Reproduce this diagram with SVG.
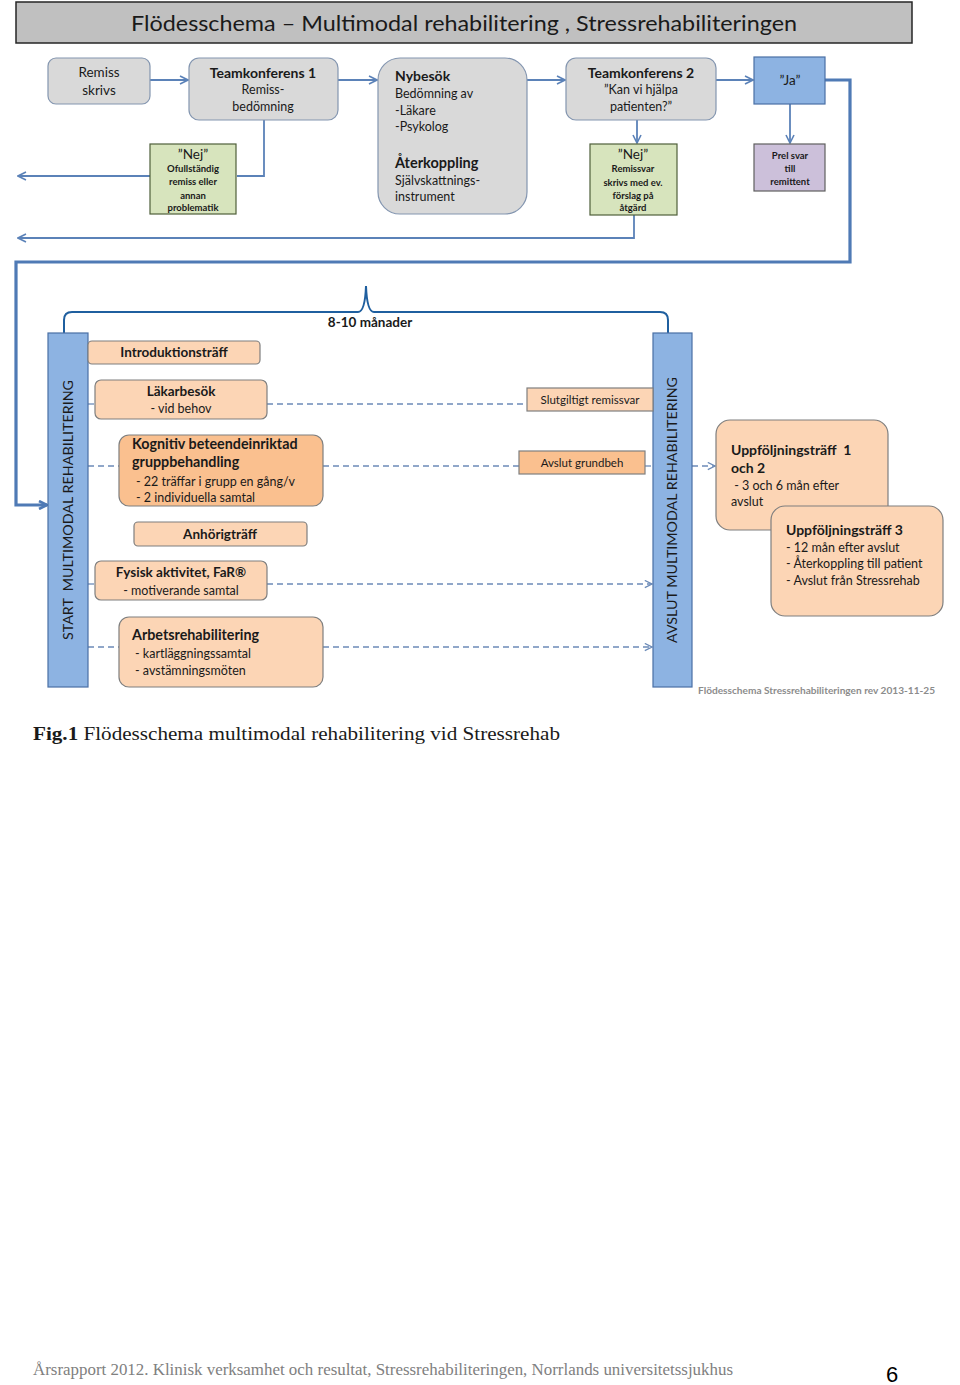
<svg xmlns="http://www.w3.org/2000/svg" width="960" height="1385" viewBox="0 0 960 1385">
<defs>
<style>
text{font-family:Lato,"Open Sans","Liberation Sans",sans-serif;fill:#1a1a1a}
.b{font-weight:bold}
.c{text-anchor:middle}
.grey{fill:#d9d9d9;stroke:#8496b0;stroke-width:1.2}
.green{fill:#d7e4bd;stroke:#4f5f3a;stroke-width:1.2}
.peach{fill:#fcd5b5;stroke:#7f7f7f;stroke-width:1.2}
.orange{fill:#fac08f;stroke:#7f7f7f;stroke-width:1.2}
.bar{fill:#8db3e2;stroke:#4a6fa5;stroke-width:1.2}
.con{fill:none;stroke:#5b82b8;stroke-width:1.8}
.thick{fill:none;stroke:#4f7ab5;stroke-width:3.2}
.dash{fill:none;stroke:#6c8bb8;stroke-width:1.3;stroke-dasharray:6 4}
</style>
<marker id="ah" viewBox="0 0 10 10" refX="9" refY="5" markerWidth="10" markerHeight="10" markerUnits="userSpaceOnUse" orient="auto">
<path d="M1,1 L9,5 L1,9" fill="none" stroke="#5b82b8" stroke-width="1.6"/>
</marker>
<marker id="ahd" viewBox="0 0 10 10" refX="9" refY="5" markerWidth="9" markerHeight="9" markerUnits="userSpaceOnUse" orient="auto">
<path d="M1,1 L9,5 L1,9" fill="none" stroke="#6c8bb8" stroke-width="1.4"/>
</marker>
<marker id="aht" viewBox="0 0 10 10" refX="9" refY="5" markerWidth="10" markerHeight="10" markerUnits="userSpaceOnUse" orient="auto">
<path d="M1,1 L9,5 L1,9" fill="none" stroke="#4f7ab5" stroke-width="2.6"/>
</marker>
</defs>
<rect width="960" height="1385" fill="#ffffff"/>

<g id="header">
<rect x="16" y="2" width="896" height="41" fill="#c0c0c0" stroke="#262626" stroke-width="1.5"/>
<text x="464" y="31" class="c" font-size="22" textLength="666" lengthAdjust="spacingAndGlyphs">Flödesschema – Multimodal rehabilitering , Stressrehabiliteringen</text>
</g>

<g id="connectors">
<line class="con" x1="150" y1="80" x2="188" y2="80" marker-end="url(#ah)"/>
<line class="con" x1="338" y1="80" x2="377" y2="80" marker-end="url(#ah)"/>
<line class="con" x1="527" y1="80" x2="565" y2="80" marker-end="url(#ah)"/>
<line class="con" x1="716" y1="80" x2="753" y2="80" marker-end="url(#ah)"/>
<polyline class="con" points="264,120 264,176 237,176"/>
<line class="con" x1="150" y1="176" x2="18" y2="176" marker-end="url(#ah)"/>
<line class="con" x1="637" y1="120" x2="637" y2="143" marker-end="url(#ah)"/>
<polyline class="con" points="634,215 634,238 18,238" marker-end="url(#ah)"/>
<line class="con" x1="790" y1="104" x2="790" y2="143" marker-end="url(#ah)"/>
<polyline class="thick" points="825,80 850,80 850,262 16,262 16,505 47,505" marker-end="url(#aht)"/>
<path d="M64,333 L64,320 Q64,312 72,312 L358,312 Q365,312 366,286 Q367,312 374,312 L660,312 Q668,312 668,320 L668,333" fill="none" stroke="#1f5f9f" stroke-width="2"/>
<line class="dash" x1="88" y1="404" x2="95" y2="404"/>
<line class="dash" x1="267" y1="404" x2="527" y2="404"/>
<line class="dash" x1="88" y1="466" x2="119" y2="466"/>
<line class="dash" x1="323" y1="466" x2="519" y2="466"/>
<line class="dash" x1="645" y1="466" x2="653" y2="466"/>
<line class="dash" x1="692" y1="466" x2="715" y2="466" marker-end="url(#ahd)"/>
<line class="dash" x1="88" y1="584" x2="95" y2="584"/>
<line class="dash" x1="267" y1="584" x2="652" y2="584" marker-end="url(#ahd)"/>
<line class="dash" x1="88" y1="647" x2="119" y2="647"/>
<line class="dash" x1="323" y1="647" x2="652" y2="647" marker-end="url(#ahd)"/>
</g>

<g id="remiss">
<rect class="grey" x="48" y="58" width="102" height="46" rx="8"/>
<text x="99" y="77" class="c" font-size="13.5">Remiss</text>
<text x="99" y="95" class="c" font-size="13.5">skrivs</text>
</g>

<g id="teamkonferens1">
<rect class="grey" x="189" y="58" width="149" height="62" rx="10"/>
<text x="263" y="78" class="c b" font-size="14">Teamkonferens 1</text>
<text x="263" y="94" class="c" font-size="12.5">Remiss-</text>
<text x="263" y="111" class="c" font-size="12.5">bedömning</text>
</g>

<g id="nej1">
<rect class="green" x="150" y="144" width="86" height="70"/>
<text x="193" y="159" class="c" font-size="13.5">”Nej”</text>
<text x="193" y="172" class="c b" font-size="9.5">Ofullständig</text>
<text x="193" y="185" class="c b" font-size="9.5">remiss eller</text>
<text x="193" y="199" class="c b" font-size="9.5">annan</text>
<text x="193" y="211" class="c b" font-size="9.5">problematik</text>
</g>

<g id="nybesok">
<rect class="grey" x="378" y="58" width="149" height="156" rx="22"/>
<text x="395" y="81" class="b" font-size="14">Nybesök</text>
<text x="395" y="98" font-size="12.5">Bedömning av</text>
<text x="395" y="115" font-size="12.5">-Läkare</text>
<text x="395" y="131" font-size="12.5">-Psykolog</text>
<text x="395" y="168" class="b" font-size="14.5">Återkoppling</text>
<text x="395" y="185" font-size="12.5">Självskattnings-</text>
<text x="395" y="201" font-size="12.5">instrument</text>
</g>

<g id="teamkonferens2">
<rect class="grey" x="566" y="58" width="150" height="62" rx="10"/>
<text x="641" y="78" class="c b" font-size="14">Teamkonferens 2</text>
<text x="641" y="94" class="c" font-size="12.5">”Kan vi hjälpa</text>
<text x="641" y="111" class="c" font-size="12.5">patienten?”</text>
</g>

<g id="nej2">
<rect class="green" x="590" y="144" width="87" height="71"/>
<text x="633" y="159" class="c" font-size="13.5">”Nej”</text>
<text x="633" y="172" class="c b" font-size="9.5">Remissvar</text>
<text x="633" y="186" class="c b" font-size="9.5">skrivs med ev.</text>
<text x="633" y="199" class="c b" font-size="9.5">förslag på</text>
<text x="633" y="211" class="c b" font-size="9.5">åtgärd</text>
</g>

<g id="ja">
<rect x="754" y="57" width="71" height="47" fill="#8db3e2" stroke="#4a6fa5" stroke-width="1.2"/>
<text x="790" y="85" class="c" font-size="13.5">”Ja”</text>
</g>

<g id="prelsvar">
<rect x="754" y="144" width="71" height="47" fill="#ccc0da" stroke="#5f5f5f" stroke-width="1.2"/>
<text x="790" y="159" class="c b" font-size="9.5">Prel svar</text>
<text x="790" y="172" class="c b" font-size="9.5">till</text>
<text x="790" y="185" class="c b" font-size="9.5">remittent</text>
</g>

<g id="brace-label">
<text x="370" y="327" class="c b" font-size="13.5">8-10 månader</text>
</g>

<g id="start-bar">
<rect class="bar" x="48" y="333" width="40" height="354"/>
<text x="68" y="515" class="c" font-size="14" transform="rotate(-90 68 510)" textLength="260" lengthAdjust="spacingAndGlyphs" xml:space="preserve">START  MULTIMODAL REHABILITERING</text>
</g>

<g id="avslut-bar">
<rect class="bar" x="653" y="333" width="39" height="354"/>
<text x="672" y="515" class="c" font-size="14" transform="rotate(-90 672 510)" textLength="266" lengthAdjust="spacingAndGlyphs">AVSLUT MULTIMODAL REHABILITERING</text>
</g>

<g id="introduktion">
<rect class="peach" x="88" y="341" width="172" height="23" rx="4"/>
<text x="174" y="357" class="c b" font-size="13.5">Introduktionsträff</text>
</g>

<g id="lakarbesok">
<rect class="peach" x="95" y="380" width="172" height="39" rx="6"/>
<text x="181" y="396" class="c b" font-size="13.5">Läkarbesök</text>
<text x="181" y="413" class="c" font-size="12.5">- vid behov</text>
</g>

<g id="kognitiv">
<rect class="orange" x="119" y="435" width="204" height="71" rx="10"/>
<text x="132" y="449" class="b" font-size="14.3">Kognitiv beteendeinriktad</text>
<text x="132" y="467" class="b" font-size="14.3">gruppbehandling</text>
<text x="136" y="486" font-size="12.5">- 22 träffar i grupp en gång/v</text>
<text x="136" y="502" font-size="12.5">- 2 individuella samtal</text>
</g>

<g id="anhorig">
<rect class="peach" x="134" y="522" width="173" height="24" rx="4"/>
<text x="220" y="539" class="c b" font-size="13.5">Anhörigträff</text>
</g>

<g id="fysisk">
<rect class="peach" x="95" y="561" width="172" height="39" rx="6"/>
<text x="181" y="577" class="c b" font-size="13.5">Fysisk aktivitet, FaR®</text>
<text x="181" y="595" class="c" font-size="12.5">- motiverande samtal</text>
</g>

<g id="arbetsrehab">
<rect class="peach" x="119" y="617" width="204" height="70" rx="10"/>
<text x="132" y="640" class="b" font-size="14.3">Arbetsrehabilitering</text>
<text x="135" y="658" font-size="12.5">- kartläggningssamtal</text>
<text x="135" y="675" font-size="12.5">- avstämningsmöten</text>
</g>

<g id="slutgiltigt">
<rect class="peach" x="527" y="388" width="126" height="23"/>
<text x="590" y="404" class="c" font-size="11.5">Slutgiltigt remissvar</text>
</g>

<g id="avslutgrundbeh">
<rect class="orange" x="519" y="451" width="126" height="23"/>
<text x="582" y="467" class="c" font-size="11.5">Avslut grundbeh</text>
</g>

<g id="uppfoljning12">
<rect class="peach" x="716" y="420" width="172" height="110" rx="14"/>
<text x="731" y="455" class="b" font-size="14" xml:space="preserve">Uppföljningsträff  1</text>
<text x="731" y="473" class="b" font-size="14">och 2</text>
<text x="731" y="490" font-size="12.5" xml:space="preserve"> - 3 och 6 mån efter</text>
<text x="731" y="506" font-size="12.5">avslut</text>
</g>

<g id="uppfoljning3">
<rect class="peach" x="771" y="506" width="172" height="110" rx="14"/>
<text x="786" y="535" class="b" font-size="14">Uppföljningsträff 3</text>
<text x="786" y="552" font-size="12.5">- 12 mån efter avslut</text>
<text x="786" y="568" font-size="12.5">- Återkoppling till patient</text>
<text x="786" y="585" font-size="12.5">- Avslut från Stressrehab</text>
</g>

<g id="revision">
<text x="698" y="694" font-size="9" style="fill:#8c8c8c" class="b" textLength="237" lengthAdjust="spacingAndGlyphs">Flödesschema Stressrehabiliteringen rev 2013-11-25</text>
</g>

<g id="caption">
<text x="33" y="740" font-size="19" style="font-family:'Liberation Serif','DejaVu Serif',serif" textLength="527" lengthAdjust="spacingAndGlyphs"><tspan font-weight="bold">Fig.1</tspan> Flödesschema multimodal rehabilitering vid Stressrehab</text>
</g>

<g id="footer">
<text x="33" y="1375" font-size="16" style="font-family:'Liberation Serif','DejaVu Serif',serif;fill:#808080" textLength="700" lengthAdjust="spacingAndGlyphs">Årsrapport 2012. Klinisk verksamhet och resultat, Stressrehabiliteringen, Norrlands universitetssjukhus</text>
<text x="886" y="1382" font-size="22" style="font-family:'Liberation Sans Narrow','Liberation Sans',sans-serif;fill:#000">6</text>
</g>
</svg>
